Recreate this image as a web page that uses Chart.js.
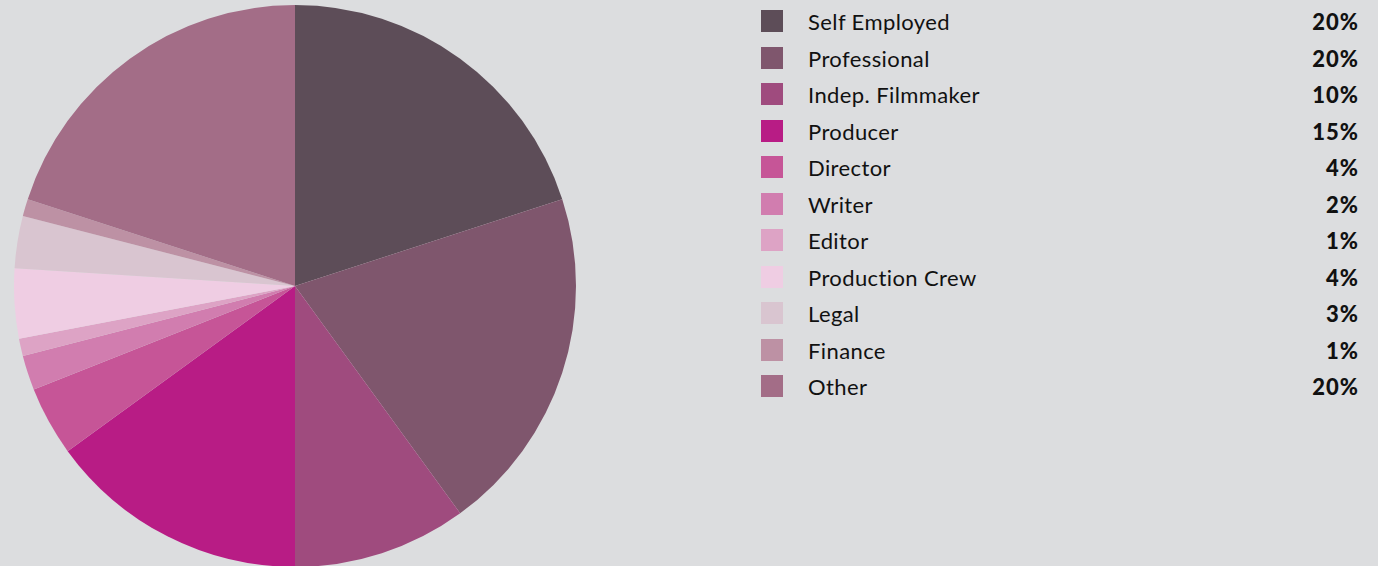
<!DOCTYPE html>
<html>
<head>
<meta charset="utf-8">
<script src="https://cdn.jsdelivr.net/npm/chart.js@4/dist/chart.umd.min.js"></script>
<style>
  html, body { margin: 0; padding: 0; background: #dcdddf; }
  body { width: 1378px; height: 566px; position: relative; overflow: hidden; font-family: Lato, "Open Sans", sans-serif; }
  #pieBox { position: absolute; left: 14px; top: 5px; width: 562px; height: 562px; }
  #leyenda { position: absolute; left: 761px; top: 10px; width: 598px; }
  .fila { height: 36.5px; position: relative; }
  .cuadro { position: absolute; left: 0; top: 0; width: 22px; height: 22px; }
  .nombre { position: absolute; left: 47px; top: 0px; font-size: 22px; line-height: 24px; letter-spacing: 0.4px; color: #111; white-space: nowrap; }
  .pct { position: absolute; right: 0; top: 0px; font-size: 22px; line-height: 24px; font-weight: 900; letter-spacing: 1px; color: #111; }
</style>
</head>
<body>
<div id="pieBox"><canvas id="pie"></canvas></div>
<div id="leyenda"></div>
<script>
// ── Datos ──
const categorias = ['Self Employed', 'Professional', 'Indep. Filmmaker', 'Producer', 'Director',
  'Writer', 'Editor', 'Production Crew', 'Legal', 'Finance', 'Other'];
const porcentajes = [20, 20, 10, 15, 4, 2, 1, 4, 3, 1, 20];
const colores = ['#5d4d58', '#7f566d', '#9f4b7e', '#b81c85', '#c65597',
  '#d17daf', '#dda3c5', '#efcde3', '#d9c5d0', '#bd91a4', '#a36d87'];

// ── Gráfica ──
new Chart(document.getElementById('pie'), {
  type: 'pie',
  data: {
    labels: categorias,
    datasets: [{ data: porcentajes, backgroundColor: colores, borderWidth: 0 }],
  },
  options: {
    responsive: true,
    maintainAspectRatio: false,
    animation: false,
    layout: { padding: 0 },
    plugins: { legend: { display: false }, tooltip: { enabled: false } },
  },
});

// ── Leyenda ──
const leyenda = document.getElementById('leyenda');
categorias.forEach((c, i) => {
  const fila = document.createElement('div');
  fila.className = 'fila';
  fila.innerHTML = `
    <div class="cuadro" style="background:${colores[i]}"></div>
    <div class="nombre">${c}</div>
    <div class="pct">${porcentajes[i]}%</div>`;
  leyenda.appendChild(fila);
});
</script>
</body>
</html>
